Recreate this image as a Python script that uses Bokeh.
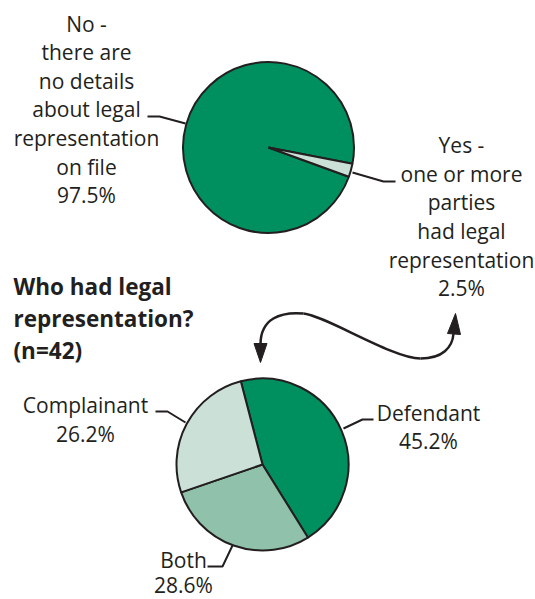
import math
from bokeh.plotting import figure
from bokeh.models import Range1d, ColumnDataSource
from bokeh.embed import file_html
from bokeh.resources import INLINE
from bokeh.core.properties import value

# ---------------- data ----------------
top_categories = ["No -\nthere are\nno details\nabout legal\nrepresentation\non file",
                  "Yes -\none or more\nparties\nhad legal\nrepresentation"]
top_values = [97.5, 2.5]
top_colors = ["#00905f", "#cbe1d7"]

bottom_categories = ["Defendant", "Both", "Complainant"]
bottom_values = [45.2, 28.6, 26.2]
bottom_colors = ["#00905f", "#90c1aa", "#cbe1d7"]

title_lines = ["Who had legal", "representation?", "(n=42)"]

# ---------------- layout ----------------
W, H = 535, 599
INK = "#231f20"
FONT = "Open Sans"
LH = 28.6      # line spacing in px
BASE_FIX = 7   # correction for how the renderer places the alphabetic baseline


def Y(py):
    """pixel row (from top) -> data y"""
    return H - py


p = figure(width=W, height=H, x_range=Range1d(0, W), y_range=Range1d(0, H),
           output_backend="svg", toolbar_location=None, min_border=0)
p.axis.visible = False
p.grid.visible = False
p.outline_line_color = None
p.background_fill_color = "white"
p.border_fill_color = "white"


def pie(values, colors, cx, cy, r, start_deg, direction):
    total = sum(values)
    starts, ends = [], []
    a = math.radians(start_deg)
    sign = -1 if direction == "clock" else 1
    for v in values:
        b = a + sign * 2 * math.pi * v / total
        starts.append(a)
        ends.append(b)
        a = b
    src = ColumnDataSource(dict(x=[cx] * len(values), y=[cy] * len(values),
                                s=starts, e=ends, c=colors))
    p.wedge(x="x", y="y", radius=r, start_angle="s", end_angle="e",
            direction=direction, fill_color="c", line_color=INK,
            line_width=2, source=src)


# top pie
pie(top_values, top_colors, 268, Y(147), 85.5, -11.0, "anticlock")
# bottom pie
pie(bottom_values, bottom_colors, 262, Y(464), 86, 104.6, "clock")


def label(lines, cx, first_baseline, size="21px", align="center", bold=False, lh=LH):
    xs = [cx] * len(lines)
    ys = [Y(first_baseline - BASE_FIX + i * lh) for i in range(len(lines))]
    p.text(x=xs, y=ys, text=lines, text_font=value(FONT), text_font_size=size,
           text_align=align, text_baseline="alphabetic", text_color=INK,
           text_font_style="bold" if bold else "normal")


# top labels
label(top_categories[0].split("\n") + [f"{top_values[0]}%"], 86, 30)
label(top_categories[1].split("\n") + [f"{top_values[1]}%"], 461, 151.7)

# bottom labels
label([bottom_categories[2], f"{bottom_values[2]}%"], 85, 411.7)
label([bottom_categories[0], f"{bottom_values[0]}%"], 428, 419)
label([bottom_categories[1], f"{bottom_values[1]}%"], 183, 566, lh=25)

# title
label(title_lines, 13, 293, size="22.5px", align="left", bold=True, lh=32)

# leader lines (pixel coordinates of the annotation)
leaders = [
    [(147, 116), (159, 116), (185, 123)],
    [(352, 172), (383, 181), (395, 181)],
    [(155, 411), (167, 411), (185, 422)],
    [(343, 428), (362, 419), (373, 419)],
    [(207, 566), (222, 566), (232, 545)],
]
p.multi_line(xs=[[pt[0] for pt in L] for L in leaders],
             ys=[[Y(pt[1]) for pt in L] for L in leaders],
             line_color=INK, line_width=2)

# curved double-headed arrow
segs = [
    ((260, 344), (303, 313), (260, 318), (280, 311)),
    ((303, 313), (420, 358), (325, 315), (392, 358)),
    ((420, 358), (453, 333), (442, 358), (452, 347)),
]
p.bezier(x0=[s[0][0] for s in segs], y0=[Y(s[0][1]) for s in segs],
         x1=[s[1][0] for s in segs], y1=[Y(s[1][1]) for s in segs],
         cx0=[s[2][0] for s in segs], cy0=[Y(s[2][1]) for s in segs],
         cx1=[s[3][0] for s in segs], cy1=[Y(s[3][1]) for s in segs],
         line_color=INK, line_width=2.5)

heads = [
    [(260, 362), (253.5, 343), (266.5, 343)],
    [(455, 313), (447, 333), (460, 334)],
]
p.patches(xs=[[pt[0] for pt in h] for h in heads],
          ys=[[Y(pt[1]) for pt in h] for h in heads],
          fill_color=INK, line_color=INK, line_width=1)

open("out.html", "w").write(file_html(p, INLINE))
